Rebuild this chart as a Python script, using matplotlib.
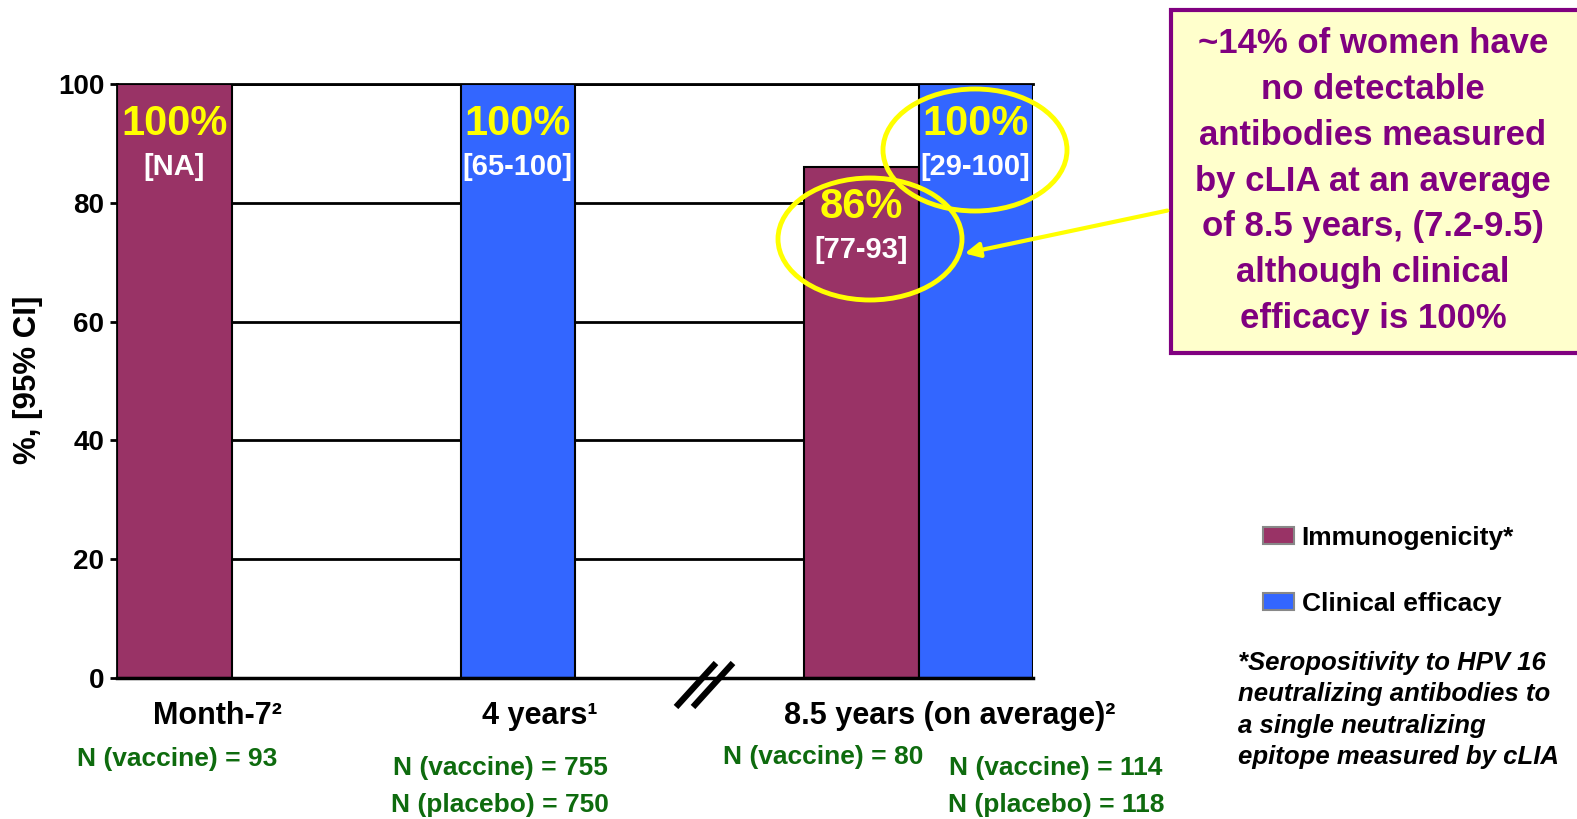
import numpy as np
import matplotlib
matplotlib.use("Agg")
import matplotlib.pyplot as plt
from matplotlib.patches import Ellipse, FancyArrowPatch, Rectangle, Patch
from matplotlib.lines import Line2D

# ---- data ----
categories = ["Month-7", "4 years", "8.5 years (on average)"]
category_refs = ["²", "¹", "²"]
immunogenicity = [100, np.nan, 86]
efficacy = [np.nan, 100, 100]
immuno_ci = ["[NA]", "", "[77-93]"]
efficacy_ci = ["", "[65-100]", "[29-100]"]
n_labels = [["N (vaccine) = 93"],
            ["N (vaccine) = 755", "N (placebo) = 750"],
            ["N (vaccine) = 80"],
            ["N (vaccine) = 114", "N (placebo) = 118"]]
yticks = [0, 20, 40, 60, 80, 100]
legend_labels = ["Immunogenicity*", "Clinical efficacy"]
callout = ("~14% of women have\nno detectable\nantibodies measured\n"
           "by cLIA at an average\nof 8.5 years, (7.2-9.5)\n"
           "although clinical\nefficacy is 100%")
footnote = ("*Seropositivity to HPV 16\nneutralizing antibodies to\n"
            "a single neutralizing\nepitope measured by cLIA")

# ---- style ----
MAROON = "#993366"
BLUE = "#3366FF"
YELLOW = "#FFFF00"
GREEN = "#0E6B0E"
PURPLE = "#800080"
NARROW = ["Liberation Sans Narrow", "Liberation Sans", "DejaVu Sans"]
ARIAL = ["Liberation Sans", "DejaVu Sans"]

W, H = 1577, 819
fig = plt.figure(figsize=(W / 100, H / 100), dpi=100)


def fx(x):
    return x / W


def fy(y):
    return 1 - y / H


ax = fig.add_axes([fx(117), fy(678), fx(1033) - fx(117), fy(84) - fy(678)])

# bar slots: group 1 at 0-2, group 2 at 2-4, group 3 at 6-8
immuno_x = [0.5, 2.5, 6.5]
eff_x = [1.5, 3.5, 7.5]
ax.bar(immuno_x, immunogenicity, width=1.0, color=MAROON,
       edgecolor="black", linewidth=1.5, zorder=3)
ax.bar(eff_x, efficacy, width=1.0, color=BLUE,
       edgecolor="black", linewidth=1.5, zorder=3)

ax.set_xlim(0, 8)
ax.set_ylim(0, 100)
ax.set_yticks(yticks)
ax.set_yticklabels([str(t) for t in yticks], family=NARROW,
                   fontweight="bold", fontsize=20)
ax.set_xticks([])
ax.tick_params(axis="y", length=5, width=2, pad=4)
ax.yaxis.grid(True, color="black", linewidth=2, zorder=0)
ax.set_axisbelow(True)
ax.spines["right"].set_visible(False)
ax.spines["left"].set_linewidth(2)
ax.spines["top"].set_linewidth(2)
ax.spines["bottom"].set_linewidth(2.5)
ax.spines["bottom"].set_zorder(4)

fig.text(fx(28), fy(380), "%, [95% CI]", rotation=90, ha="center",
         va="center", family=ARIAL, fontweight="bold", fontsize=22.5)

# value labels inside bars
def bar_labels(xs, vals, cis):
    for x, v, ci in zip(xs, vals, cis):
        if np.isnan(v):
            continue
        ax.annotate(f"{v:.0f}%", (x, v), xytext=(0, -29), textcoords="offset points",
                    ha="center", va="center", color=YELLOW, family=ARIAL,
                    fontweight="bold", fontsize=30, zorder=5)
        ax.annotate(ci, (x, v), xytext=(0, -60), textcoords="offset points",
                    ha="center", va="center", color="white", family=ARIAL,
                    fontweight="bold", fontsize=21, zorder=5)


bar_labels(immuno_x, immunogenicity, immuno_ci)
bar_labels(eff_x, efficacy, efficacy_ci)

# category labels
cat_pos = [(217, 716), (540, 716), (950, 716)]
for (x, y), c, r in zip(cat_pos, categories, category_refs):
    fig.text(fx(x), fy(y), c + r, ha="center", va="center", family=NARROW,
             fontweight="bold", fontsize=22)

# sample sizes
n_pos = [(177, 759), (500, 768), (823, 757), (1056, 768)]
for (x, y), lines in zip(n_pos, n_labels):
    for i, t in enumerate(lines):
        fig.text(fx(x), fy(y + 37 * i), t, ha="center", va="center",
                 family=NARROW, fontweight="bold", fontsize=19, color=GREEN)

# axis break marks
for dx in (0, 17):
    fig.add_artist(Line2D([fx(676 + dx), fx(716 + dx)], [fy(707), fy(663)],
                          color="black", linewidth=4.5, solid_capstyle="butt"))

# highlight ellipses
for cx, cy in [(975, 150), (870, 239)]:
    fig.add_artist(Ellipse((fx(cx), fy(cy)), width=184 / W, height=122 / H,
                           transform=fig.transFigure, fill=False,
                           edgecolor=YELLOW, linewidth=3.5, zorder=6))

# callout box
fig.add_artist(Rectangle((fx(1171), fy(353)), fx(1590) - fx(1171), fy(10) - fy(353),
                         transform=fig.transFigure, facecolor="#FFFFCC",
                         edgecolor=PURPLE, linewidth=3, zorder=5))
fig.text(fx(1373), fy(181), callout, ha="center", va="center", family=NARROW,
         fontweight="bold", fontsize=25, color=PURPLE, linespacing=1.49, zorder=6)

fig.add_artist(FancyArrowPatch((fx(1170), fy(210)), (fx(962), fy(254)),
                               transform=fig.transFigure, arrowstyle="-|>",
                               mutation_scale=22, color=YELLOW, linewidth=3,
                               zorder=7))

# legend
handles = [Patch(facecolor=MAROON, edgecolor="#888888", linewidth=1.5),
           Patch(facecolor=BLUE, edgecolor="#888888", linewidth=1.5)]
fig.legend(handles, legend_labels, loc="upper left",
           bbox_to_anchor=(fx(1252), fy(515)), frameon=False,
           prop={"family": ARIAL, "weight": "bold", "size": 19},
           handlelength=1.18, handleheight=0.62, handletextpad=0.3,
           labelspacing=1.6, borderaxespad=0)

fig.text(fx(1238), fy(710), footnote, ha="left", va="center", family=ARIAL,
         fontweight="bold", style="italic", fontsize=18.5, linespacing=1.4)

fig.savefig("out.png", dpi=100)
